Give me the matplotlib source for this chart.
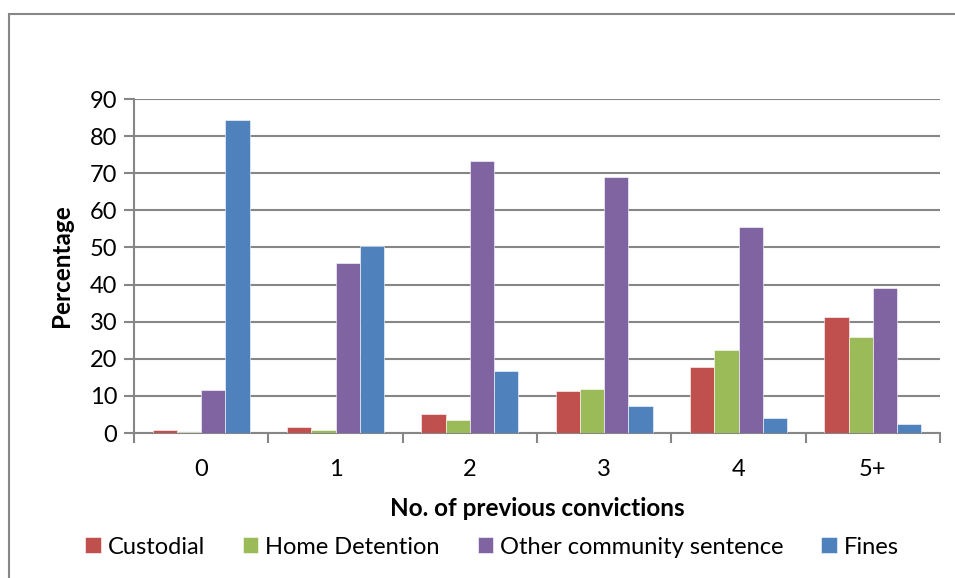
import numpy as np
import matplotlib
matplotlib.use("Agg")
import matplotlib.pyplot as plt
from matplotlib.patches import Rectangle

categories = ["0", "1", "2", "3", "4", "5+"]
custodial = [0.7, 1.5, 5.0, 11.2, 17.8, 31.3]
home_detention = [0.3, 0.7, 3.6, 11.8, 22.3, 25.9]
other_community = [11.7, 45.8, 73.3, 68.9, 55.5, 39.1]
fines = [84.4, 50.4, 16.6, 7.4, 4.0, 2.5]

series = [
	("Custodial", custodial, "#C0504D"),
	("Home Detention", home_detention, "#9BBB59"),
	("Other community sentence", other_community, "#8064A2"),
	("Fines", fines, "#4F81BD"),
]

plt.rcParams["font.family"] = ["Lato", "DejaVu Sans"]
W, H = 955, 578
fig = plt.figure(figsize=(W / 100, H / 100), dpi=100)
ax = fig.add_axes([134 / W, 1 - 433 / H, (940 - 134) / W, (433 - 99) / H])

# outer chart border
fig.patches.append(Rectangle((9 / W, -0.05), 1.1, 1 - 14 / H + 0.05,
	transform=fig.transFigure, fill=False, edgecolor="#868686", linewidth=1.5))

x = np.arange(len(categories))
bw = 0.18
for i, (name, vals, col) in enumerate(series):
	ax.bar(x + (i - 1.5) * bw, vals, bw, color=col, label=name,
		edgecolor="white", linewidth=0.4, zorder=3)

ax.set_xlim(-0.5, len(categories) - 0.5)
ax.set_ylim(0, 90)
ax.set_yticks(range(0, 91, 10))
ax.set_xticks(x)
ax.set_xticklabels(categories)
ax.set_xticks(np.arange(-0.5, len(categories), 1), minor=True)
ax.tick_params(axis="x", which="major", length=0, pad=19, labelsize=17)
ax.tick_params(axis="x", which="minor", length=7, width=1.5, color="#868686")
ax.tick_params(axis="y", length=7, width=1.5, color="#868686", labelsize=17, pad=5)
ax.grid(axis="y", color="#868686", linewidth=1.5, zorder=0)
ax.set_axisbelow(True)
for s in ["top", "right"]:
	ax.spines[s].set_visible(False)
for s in ["left", "bottom"]:
	ax.spines[s].set_color("#868686")
	ax.spines[s].set_linewidth(1.5)

ax.set_ylabel("Percentage", fontsize=17.5, fontweight="bold")
ax.set_xlabel("No. of previous convictions", fontsize=17.5, fontweight="bold")
ax.xaxis.label.set_va("center")
ax.xaxis.set_label_coords(0.5, (433 - 508) / 334)
ax.yaxis.label.set_va("center")
ax.yaxis.label.set_rotation_mode("anchor")
ax.yaxis.set_label_coords((62 - 134) / 806, 0.5)

ax.legend(loc="center", bbox_to_anchor=(492 / W, 1 - 547 / H), bbox_transform=fig.transFigure,
	ncol=4, frameon=False, fontsize=17, handlelength=0.65, handleheight=0.65,
	handletextpad=0.3, columnspacing=1.6)

fig.savefig("out.png", dpi=100)
